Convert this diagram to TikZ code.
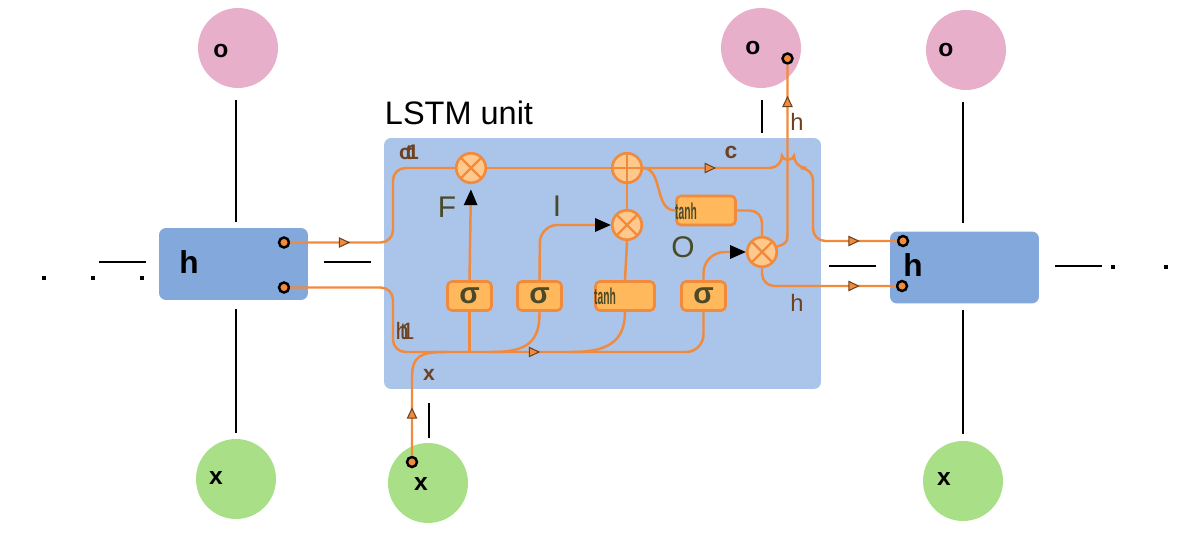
\documentclass[tikz,border=0pt]{standalone}
\usepackage{fontspec}
\setmainfont{Liberation Sans}
\usetikzlibrary{arrows.meta,decorations.markings,calc}
\definecolor{pinkc}{HTML}{E8AFCB}
\definecolor{greenc}{HTML}{A9DF87}
\definecolor{hboxc}{HTML}{82A8DC}
\definecolor{unitc}{HTML}{AAC4EA}
\definecolor{linec}{HTML}{F28A3C}
\definecolor{gatef}{HTML}{FFB85C}
\definecolor{opf}{HTML}{FFC98E}
\definecolor{brownc}{HTML}{6E4220}
\definecolor{olivec}{HTML}{4A4A28}
\newcommand{\oarr}{\arrow{Triangle[length=6.5pt,width=6pt,fill=linec,color=brownc,line width=0.6pt]}}
\begin{document}
\begin{tikzpicture}[x=0.02cm,y=-0.02cm,
  oline/.style={draw=linec, line width=1.4pt},
  marks/.style={decoration={markings,#1}, postaction={decorate}},
  barr/.style={-{Triangle[length=9pt,width=7.5pt,color=black]}},
  stub/.style={draw=black, line width=1.2pt},
  pinkcirc/.style={circle, fill=pinkc, minimum size=1.6cm, inner sep=0pt},
  greencirc/.style={circle, fill=greenc, minimum size=1.6cm, inner sep=0pt},
  hbox/.style={rectangle, rounded corners=4pt, fill=hboxc, minimum width=2.98cm, minimum height=1.44cm, inner sep=0pt},
  term/.style={circle, fill=linec, draw=black, line width=1.4pt, minimum size=0.2cm, inner sep=0pt},
  gatebox/.style={rectangle, rounded corners=2.5pt, fill=gatef, draw=linec, line width=1.5pt, minimum height=0.58cm, inner sep=0pt},
  opc/.style={circle, fill=opf, draw=linec, line width=1.5pt, minimum size=0.59cm, inner sep=0pt},
  mulop/.style={opc, path picture={\draw[linec, line width=1.4pt] (path picture bounding box.north west) -- (path picture bounding box.south east) (path picture bounding box.north east) -- (path picture bounding box.south west);}},
  addop/.style={opc, path picture={\draw[linec, line width=1.4pt] (path picture bounding box.north) -- (path picture bounding box.south) (path picture bounding box.east) -- (path picture bounding box.west);}},
  circlbl/.style={font=\bfseries\fontsize{14}{14}\selectfont, text=black, inner sep=0pt},
  boxlbl/.style={font=\bfseries\fontsize{18}{18}\selectfont, text=black, inner sep=0pt},
  hlbl/.style={font=\fontsize{13.5}{14}\selectfont, text=brownc, inner sep=0pt},
  glbl/.style={font=\fontsize{17}{17}\selectfont, text=olivec, inner sep=0pt},
  siglbl/.style={font=\bfseries\fontsize{17}{17}\selectfont, text=olivec, inner sep=0pt},
  tanhlbl/.style={font=\bfseries\fontsize{13}{13}\selectfont, text=olivec, inner sep=0pt},
]
\useasboundingbox (0,0) rectangle (1200,533);

% outer circles
\node[pinkcirc] (po1) at (238,48) {};
\node[pinkcirc] (po2) at (761,48) {};
\node[pinkcirc] (po3) at (966,50) {};
\node[greencirc] (gx1) at (236,479) {};
\node[greencirc] (gx2) at (428,483) {};
\node[greencirc] (gx3) at (963,481) {};
\node[circlbl] (lo1) at (221,51) {o};
\node[circlbl] (lo2) at (753,48) {o};
\node[circlbl] (lo3) at (946,50) {o};
\node[circlbl] (lx1) at (216,478) {x};
\node[circlbl] (lx2) at (421,484) {x};
\node[circlbl] (lx3) at (944,479) {x};

% h boxes
\node[hbox] (hb1) at (233.5,264) {};
\node[hbox] (hb2) at (964.5,267.5) {};
\node[boxlbl] (lh1) at (189,262) {h};
\node[boxlbl] (lh2) at (913,265) {h};

% LSTM unit
\node[rectangle, rounded corners=4pt, fill=unitc, minimum width=8.74cm, minimum height=5.02cm, inner sep=0pt] (unit) at (602.5,263.5) {};
\node[font=\fontsize{18.5}{20}\selectfont, inner sep=0pt] (title) at (459,113) {LSTM unit};

% black stubs
\draw[stub] (236,100) -- (236,222);
\draw[stub] (236,309) -- (236,433);
\draw[stub] (762,100) -- (762,133);
\draw[stub] (429,403) -- (429,438);
\draw[stub] (963,102) -- (963,223);
\draw[stub] (963,310) -- (963,434);
\draw[stub] (99,262) -- (146,262);
\draw[stub] (324,262) -- (371,262);
\draw[stub] (829,266) -- (876,266);
\draw[stub] (1055,266) -- (1102,266);
\foreach \px/\py in {44/278,93/278,142/278,1113/267,1166/267}
  \fill (\px-2,\py-2) rectangle (\px+2,\py+2);

% gates
\node[mulop] (fx) at (471,168) {};
\node[addop] (add) at (627,168) {};
\node[mulop] (mi) at (627,225) {};
\node[mulop] (mo) at (762,252) {};
\node[gatebox, minimum width=0.88cm] (s1) at (469.5,296) {};
\node[gatebox, minimum width=0.88cm] (s2) at (539.5,296) {};
\node[gatebox, minimum width=1.18cm] (ta1) at (625,296) {};
\node[gatebox, minimum width=0.88cm] (s3) at (703.5,296) {};
\node[gatebox, minimum width=1.18cm] (ta2) at (706,210.5) {};
\node[siglbl] at (s1) {σ};
\node[siglbl] at (s2) {σ};
\node[siglbl] at (s3) {σ};
\node[tanhlbl] (lt1) at (605,296) {\scalebox{0.45}[1]{tanh}};
\node[tanhlbl] (lt2) at (686,211) {\scalebox{0.45}[1]{tanh}};

% terminals
\node[term] (t1) at (284,242.5) {};
\node[term] (t2) at (284,287.5) {};
\node[term] (t3) at (903,241) {};
\node[term] (t4) at (902,286) {};
\node[term] (t5) at (787.5,58.5) {};
\node[term] (t6) at (412,462) {};

% cell state line
\draw[oline, rounded corners=7pt, marks={mark=at position 1.2cm with {\oarr}}] (t1) -- (393,242.5) -- (393,168) -- (fx);
\draw[oline] (fx) -- (add);
\draw[oline, rounded corners=7pt, marks={mark=at position 1.46cm with {\oarr}, mark=at position -0.74cm with {\oarr}}]
  (add.east) -- (782,168) .. controls (782,161) and (794,161) .. (794,168) -- (813,168) -- (813,241) -- (t3);

% hidden / input bus
\draw[oline, rounded corners=7pt, marks={mark=at position 6.08cm with {\oarr}}]
  (t2) -- (393,287.5) -- (393,352) [rounded corners=10pt] -- (703.5,352) -- (s3.south);
\draw[oline, marks={mark=at position 0.97cm with {\oarr}}] (t6) -- (412,378) .. controls (412,356) and (420,352) .. (446,352);
\draw[oline] (s1.south) -- (s1.south |- 0,352);
\draw[oline] (s2.south) .. controls (540,342) and (527,352) .. (492,352);
\draw[oline] (ta1.south) .. controls (625,342) and (607,352) .. (572,352);

% gate connections
\draw[oline, barr, shorten >=3pt] (s1.north) -- (fx.south);
\draw[oline, barr, rounded corners=10pt] (s2.north) -- (540,225) -- (mi.west);
\draw[oline] (ta1.north) -- (mi.south);
\draw[oline] (mi.north) -- (add.south);
\draw[oline, barr, rounded corners=12pt] (s3.north) -- (703.5,252) -- (mo.west);
\draw[oline] (add.east) .. controls (663,168) and (654,210.5) .. (ta2.west);
\draw[oline, rounded corners=7pt] (ta2.east) -- (762,210.5) -- (mo.north);
\draw[oline, marks={mark=at position -0.62cm with {\oarr}}] (mo.20) .. controls (787.5,243) .. (787.5,228) -- (t5);
\draw[oline, rounded corners=7pt, marks={mark=at position -0.72cm with {\oarr}}] (mo.south) -- (762,286) -- (t4);

% labels
\node[hlbl, font=\bfseries\fontsize{12}{12}\selectfont] (lc1) at (409,152) {c\kern-3pt t\kern-3pt 1};
\node[hlbl, font=\bfseries\fontsize{13}{13}\selectfont] (lc2) at (731,152) {c};
\node[glbl] (lf) at (447,207) {F};
\node[glbl] (li) at (557,206) {I};
\node[glbl] (lo) at (683,247) {O};
\node[hlbl] (lh3) at (797,122) {h};
\node[hlbl] (lh4) at (797,303) {h};
\node[hlbl] (lh5) at (405,331) {h\kern-5pt t\kern-3pt 1};
\node[hlbl, font=\bfseries\fontsize{12}{12}\selectfont] (lx4) at (429,375) {x};
\end{tikzpicture}
\end{document}
